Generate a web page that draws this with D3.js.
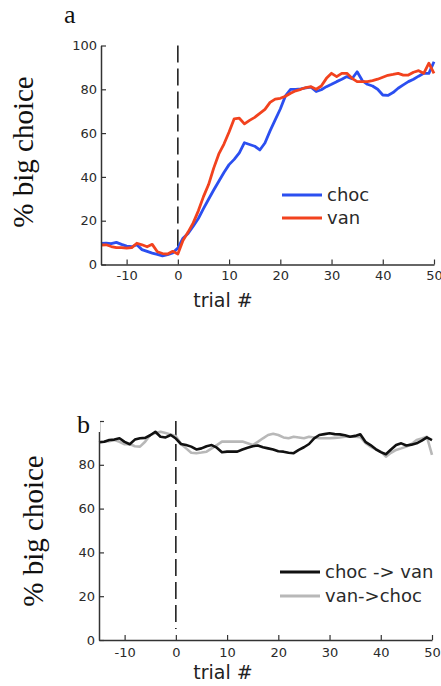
<!DOCTYPE html>
<html>
<head>
<meta charset="utf-8">
<script src="https://cdn.jsdelivr.net/npm/d3@7"></script>
<style>
  html, body { margin: 0; padding: 0; background: #fff; }
  svg { display: block; }
</style>
</head>
<body>
<svg id="chart" width="441" height="686"></svg>
<script>
// ---------- data ----------
const trials = d3.range(-15, 51); // -15 .. 50
const xTicks = [-10, 0, 10, 20, 30, 40, 50];
const yTicks = [0, 20, 40, 60, 80, 100];

// panel a
const choc = [9.6, 9.8, 9.5, 10.1, 9.2, 8.4, 8.1, 9.0, 6.8, 6.0, 5.2, 4.6, 3.9, 4.5, 5.3,
  7.5, 12.0, 14.2, 17.5, 21.0, 25.5, 29.8, 34.0, 38.0, 42.0, 45.6, 48.0, 51.0, 55.6, 54.8,
  54.0, 52.3, 55.5, 61.0, 66.0, 71.0, 77.0, 80.0, 80.0, 80.2, 80.6, 81.0, 79.0, 79.8, 81.2,
  82.3, 83.5, 84.6, 85.8, 84.8, 88.0, 84.0, 82.3, 81.5, 80.0, 77.4, 77.2, 78.5, 80.5, 82.0,
  83.5, 84.6, 86.0, 87.3, 87.3, 92.6];
const van = [8.9, 9.0, 8.2, 7.7, 7.7, 7.5, 7.7, 9.7, 9.0, 8.1, 9.2, 5.8, 5.0, 4.8, 6.0,
  4.8, 11.0, 14.8, 19.0, 24.5, 31.0, 36.5, 44.0, 50.5, 55.0, 60.5, 66.5, 66.8, 64.2, 65.8,
  67.2, 69.0, 70.8, 74.0, 75.5, 75.9, 76.8, 78.2, 79.3, 80.0, 80.8, 81.2, 80.0, 81.5, 85.0,
  87.3, 85.8, 87.3, 87.3, 85.0, 83.5, 83.5, 83.5, 84.0, 84.6, 85.5, 86.4, 86.8, 87.3, 86.5,
  86.5, 87.8, 88.5, 87.3, 91.9, 87.3];
const legendA = ["choc", "van"];

// panel b
const chocToVan = [90.3, 90.5, 91.3, 91.5, 92.1, 90.5, 89.4, 91.5, 92.1, 92.3, 93.5, 95.1, 92.8, 92.5, 93.6,
  92.0, 89.5, 89.0, 88.3, 87.0, 87.5, 88.5, 89.0, 87.8, 85.7, 86.0, 86.0, 86.0, 87.0, 87.8,
  88.5, 88.8, 88.0, 87.5, 87.0, 86.2, 86.0, 85.5, 85.3, 86.8, 88.0, 89.5, 92.1, 93.6, 94.0,
  94.4, 94.0, 93.9, 93.5, 92.8, 93.2, 93.9, 90.5, 89.0, 87.2, 85.8, 84.8, 87.0, 89.0, 89.8,
  88.8, 89.2, 89.8, 91.0, 92.5, 91.3];
const vanToChoc = [90.3, 90.5, 90.8, 91.3, 90.5, 89.4, 89.5, 88.5, 88.3, 90.5, 93.6, 94.5, 95.1, 94.5, 93.8,
  93.0, 89.5, 87.5, 85.5, 85.3, 85.6, 86.0, 87.5, 89.0, 90.6, 90.6, 90.6, 90.6, 90.6, 89.8,
  89.0, 90.5, 92.1, 93.6, 94.2, 93.6, 92.5, 92.1, 92.8, 92.5, 92.1, 92.8, 92.5, 92.1, 92.1,
  92.1, 92.3, 92.5, 92.8, 92.8, 92.8, 92.6, 90.0, 88.3, 87.0, 86.0, 83.7, 85.5, 86.8, 87.5,
  88.3, 89.5, 91.3, 92.0, 92.8, 84.5];
const legendB = ["choc -> van", "van->choc"];

// ---------- drawing ----------
const svg = d3.select("#chart");
const sans = "'DejaVu Sans', Verdana, sans-serif";
const serif = "'Liberation Serif', 'Times New Roman', serif";
const axisColor = "#333";

function panel(cfg) {
  const x = d3.scaleLinear().domain([-15, 50]).range([cfg.x0, cfg.x1]);
  const y = d3.scaleLinear().domain([0, 100]).range([cfg.y0, cfg.y1]);
  const g = svg.append("g");

  // dashed event line at trial 0
  g.append("line")
    .attr("x1", x(0)).attr("x2", x(0))
    .attr("y1", y(100)).attr("y2", y(5))
    .attr("stroke", "#222").attr("stroke-width", 1.6)
    .attr("stroke-dasharray", "17,6");

  // series (drawn in drawOrder)
  const line = d3.line().x((d, i) => x(trials[i])).y(d => y(d));
  cfg.drawOrder.forEach(k => {
    const s = cfg.series[k];
    g.append("path").datum(s.values)
      .attr("fill", "none").attr("stroke", s.color)
      .attr("stroke-width", s.width).attr("stroke-linejoin", "round")
      .attr("d", line);
  });

  // axes
  const fmt = d => (cfg.hideTop && d === 100) ? "" : String(d);
  const xa = g.append("g").attr("transform", `translate(0,${cfg.y0})`)
    .call(d3.axisBottom(x).tickValues(xTicks).tickFormat(d => String(d))
      .tickSizeInner(-5).tickSizeOuter(0).tickPadding(cfg.xPad));
  const ya = g.append("g").attr("transform", `translate(${cfg.x0},0)`)
    .call(d3.axisLeft(y).tickValues(yTicks).tickFormat(fmt)
      .tickSizeInner(-5).tickSizeOuter(0).tickPadding(4));
  [xa, ya].forEach(a => {
    a.select(".domain").attr("stroke", axisColor).attr("stroke-width", 1.5);
    a.selectAll(".tick line").attr("stroke", axisColor).attr("stroke-width", 1.2);
    a.selectAll(".tick text").attr("fill", "#2a2a2a")
      .style("font-family", sans).style("font-size", "13px");
  });

  // axis labels
  g.append("text").attr("x", 223).attr("y", cfg.xLabelY)
    .attr("text-anchor", "middle").attr("fill", "#222")
    .style("font-family", sans).style("font-size", "19px")
    .text("trial #");
  g.append("text")
    .attr("transform", `translate(${cfg.yLabelX},${cfg.yLabelCY}) rotate(-90)`)
    .attr("text-anchor", "middle").attr("fill", "#111")
    .style("font-family", serif).style("font-size", "29px")
    .text("% big choice");

  // legend
  cfg.series.forEach((s, i) => {
    const ly = cfg.legY + i * cfg.legStep;
    g.append("line").attr("x1", cfg.legX).attr("x2", cfg.legX + 40)
      .attr("y1", ly).attr("y2", ly)
      .attr("stroke", s.color).attr("stroke-width", 3);
    g.append("text").attr("x", cfg.legX + 45).attr("y", ly + 6)
      .attr("fill", "#2a2a2a")
      .style("font-family", sans).style("font-size", "18px")
      .text(s.name);
  });

  // panel letter
  if (cfg.letterBox) {
    g.append("rect").attr("x", cfg.letterBox[0]).attr("y", cfg.letterBox[1])
      .attr("width", cfg.letterBox[2]).attr("height", cfg.letterBox[3]).attr("fill", "#fff");
  }
  g.append("text").attr("x", cfg.letterX).attr("y", cfg.letterY)
    .attr("fill", "#111").style("font-family", serif).style("font-size", "26px")
    .text(cfg.letter);
}

panel({
  x0: 101, x1: 434, y0: 264.5, y1: 45.5, xPad: 6,
  xLabelY: 307, yLabelX: 33, yLabelCY: 152,
  legX: 282, legY: 195, legStep: 23,
  letter: "a", letterX: 64, letterY: 23,
  drawOrder: [0, 1],
  series: [
    { name: legendA[0], values: choc, color: "#2b4ff0", width: 2.8 },
    { name: legendA[1], values: van, color: "#f2421e", width: 2.8 }
  ]
});

panel({
  x0: 99, x1: 432, y0: 640, y1: 421, xPad: 8,
  xLabelY: 679, yLabelX: 43, yLabelCY: 531,
  legX: 280, legY: 572, legStep: 24,
  letter: "b", letterX: 77, letterY: 433,
  letterBox: [76, 410, 24, 22],
  hideTop: true,
  drawOrder: [1, 0],
  series: [
    { name: legendB[0], values: chocToVan, color: "#111", width: 2.6 },
    { name: legendB[1], values: vanToChoc, color: "#b8b8b8", width: 2.6 }
  ]
});
</script>
</body>
</html>
